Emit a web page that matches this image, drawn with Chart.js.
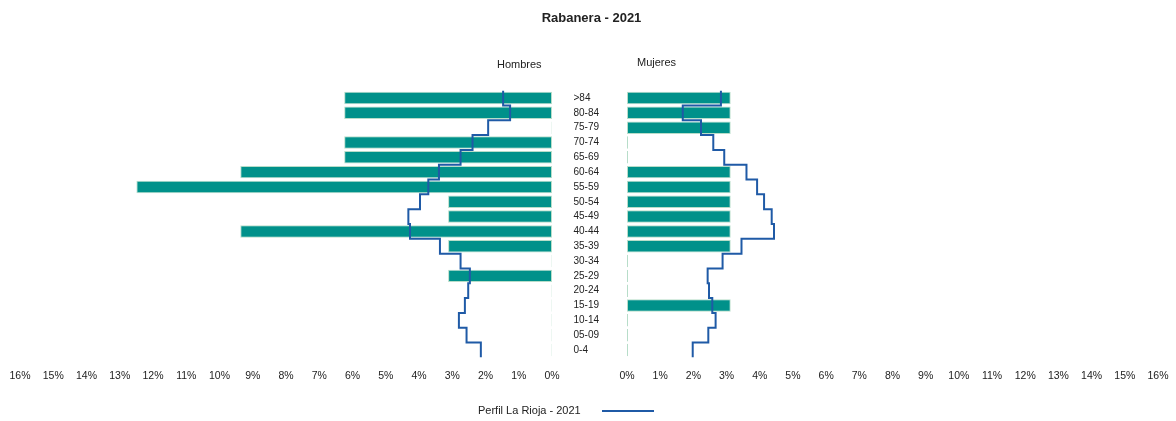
<!DOCTYPE html>
<html>
<head>
<meta charset="utf-8">
<script src="https://cdn.jsdelivr.net/npm/chart.js@4/dist/chart.umd.min.js"></script>
<style>
  body { margin: 0; background: #fff; font-family: "Liberation Sans", Arial, sans-serif; color: #222; }
  #wrap { position: relative; width: 1176px; height: 421px; overflow: hidden; }
  .box { position: absolute; top: 0; height: 421px; }
  .txt { position: absolute; white-space: nowrap; }
</style>
</head>
<body>
<div id="wrap">
  <div class="box" style="left:0;width:600px"><canvas id="left"></canvas></div>
  <div class="box" style="left:590px;width:586px"><canvas id="right"></canvas></div>

  <div class="txt" style="left:0;width:1183px;top:10px;text-align:center;font-size:13px;font-weight:bold;line-height:15px">Rabanera - 2021</div>
  <div class="txt" style="left:497px;top:57.5px;font-size:11px;line-height:13px">Hombres</div>
  <div class="txt" style="left:637px;top:56px;font-size:11px;line-height:13px">Mujeres</div>

  <div class="txt" style="left:478px;top:404px;font-size:11px;line-height:13px">Perfil La Rioja - 2021</div>
  <div class="txt" style="left:602px;top:410px;width:52px;height:2px;background:#1f5aa6"></div>
</div>

<script>
// age groups, top to bottom
const ages = ['>84', '80-84', '75-79', '70-74', '65-69', '60-64', '55-59', '50-54', '45-49',
              '40-44', '35-39', '30-34', '25-29', '20-24', '15-19', '10-14', '05-09', '0-4'];

// % of total population (Rabanera)
const hombres = [6.25, 6.25, 0, 6.25, 6.25, 9.375, 12.5, 3.125, 3.125, 9.375, 3.125, 0, 3.125, 0, 0, 0, 0, 0];
const mujeres = [3.125, 3.125, 3.125, 0, 0, 3.125, 3.125, 3.125, 3.125, 3.125, 3.125, 0, 0, 0, 3.125, 0, 0, 0];

// profile La Rioja 2021
const perfilH = [1.47, 1.26, 1.92, 2.39, 2.75, 3.40, 3.72, 3.97, 4.32, 4.27, 3.37, 2.75, 2.47, 2.52, 2.62, 2.80, 2.57, 2.14];
const perfilM = [2.83, 1.68, 2.23, 2.60, 2.93, 3.60, 3.92, 4.13, 4.36, 4.43, 3.45, 2.88, 2.43, 2.47, 2.57, 2.67, 2.45, 1.98];

const xMax = 16;
const serieName = 'Perfil La Rioja - 2021';

Chart.defaults.font.family = '"Liberation Sans", Arial, sans-serif';
Chart.defaults.color = '#222';

// each age band becomes a vertical segment from its top edge to its bottom edge
function steps(values) {
    let pts = [];
    values.forEach((v, i) => {
        pts.push({ x: v, y: i - 0.5 });
        pts.push({ x: v, y: i + 0.5 });
    });
    return pts;
}

function makeChart(id, bars, perfil, isLeft) {
    return new Chart(document.getElementById(id), {
        type: 'bar',
        data: {
            labels: ages,
            datasets: [{
                label: isLeft ? 'Hombres' : 'Mujeres',
                data: bars,
                backgroundColor: '#00918a',
                borderColor: '#b7ddc9',
                borderWidth: 1,
                borderSkipped: false,
                minBarLength: 1,
                grouped: false,
                categoryPercentage: 1,
                barPercentage: 0.84,
                yAxisID: 'y',
                order: 1
            }, {
                type: 'line',
                label: serieName,
                data: steps(perfil),
                borderColor: '#1f5aa6',
                borderWidth: 2,
                pointRadius: 0,
                tension: 0,
                fill: false,
                yAxisID: 'yl',
                order: 0
            }]
        },
        options: {
            indexAxis: 'y',
            responsive: true,
            maintainAspectRatio: false,
            animation: false,
            layout: {
                padding: isLeft ? { left: 20, right: 0, top: 90.6, bottom: 0 }
                                : { left: 37, right: 18, top: 90.6, bottom: 0 }
            },
            plugins: {
                legend: { display: false },
                tooltip: { enabled: false }
            },
            scales: {
                x: {
                    min: 0,
                    max: xMax,
                    reverse: isLeft,
                    grid: { display: false, drawTicks: false },
                    border: { display: false },
                    ticks: {
                        stepSize: 1,
                        padding: 12,
                        color: '#222',
                        font: { size: 10.5 },
                        maxRotation: 0,
                        autoSkip: false,
                        callback: v => v + '%'
                    },
                    // labels may hang over the plot edges, the padding above handles it
                    afterFit: s => { s.height = 63.6; s.paddingLeft = 0; s.paddingRight = 0; }
                },
                y: {
                    type: 'category',
                    position: 'right',
                    display: isLeft,
                    grid: { display: false, drawTicks: false },
                    border: { display: false },
                    ticks: { padding: 21.5, color: '#222', font: { size: 10 }, autoSkip: false },
                    afterFit: s => { if (isLeft) s.width = 48; }
                },
                yl: {
                    type: 'linear',
                    display: false,
                    offset: false,
                    min: -0.5,
                    max: ages.length - 0.5,
                    reverse: true
                }
            }
        }
    });
}

makeChart('left', hombres, perfilH, true);
makeChart('right', mujeres, perfilM, false);
</script>
</body>
</html>
